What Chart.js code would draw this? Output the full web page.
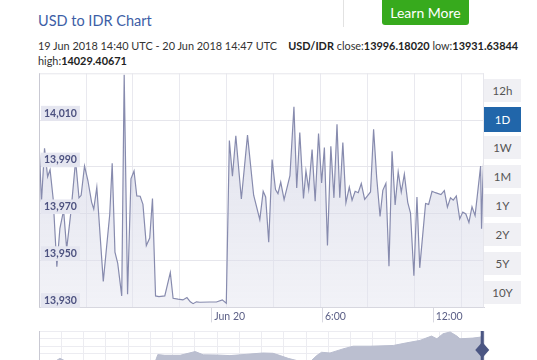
<!DOCTYPE html>
<html>
<head>
<meta charset="utf-8">
<script src="https://cdn.jsdelivr.net/npm/chart.js@4"></script>
<style>
  body { margin: 0; width: 537px; height: 360px; overflow: hidden; background: #fff; font-family: Lato, sans-serif; position: relative; }
  .title { position: absolute; left: 38px; top: 12px; font-size: 14.5px; color: #3d5ea6; }
  .sep { position: absolute; left: 343px; top: 0; width: 1px; height: 27px; background: #e2e2e2; }
  .learn { position: absolute; left: 382px; top: -4px; width: 87px; height: 29px; background: #37aa1d; color: #fff; border-radius: 3px; font-size: 14px; text-align: center; line-height: 34px; }
  .info { position: absolute; left: 38px; top: 38px; font-size: 10.9px; color: #333; line-height: 15px; width: 500px; white-space: nowrap; }
  .info b { color: #222; }
  .btns { position: absolute; left: 484px; top: 79px; }
  .btn { width: 37px; height: 23px; margin-bottom: 6px; background: #f0f0f4; color: #555; font-size: 11.5px; text-align: center; line-height: 23px; }
  .btn.on { background: #2166aa; color: #fff; height: 25px; line-height: 25px; margin-top: -1px; margin-bottom: 4px; }
  #mainWrap { position: absolute; left: 0; top: 62px; width: 490px; height: 264px; }
  #navWrap { position: absolute; left: 0; top: 329px; width: 490px; height: 40px; }
</style>
</head>
<body>
<div class="title">USD to IDR Chart</div>
<div class="sep"></div>
<div class="learn">Learn More</div>
<div class="info">19 Jun 2018 14:40 UTC - 20 Jun 2018 14:47 UTC &nbsp;&nbsp; <b>USD/IDR</b> close:<b>13996.18020</b> low:<b>13931.63844</b><br>high:<b>14029.40671</b></div>
<div class="btns">
  <div class="btn">12h</div>
  <div class="btn on">1D</div>
  <div class="btn">1W</div>
  <div class="btn">1M</div>
  <div class="btn">1Y</div>
  <div class="btn">2Y</div>
  <div class="btn">5Y</div>
  <div class="btn">10Y</div>
</div>
<div id="mainWrap"><canvas id="main"></canvas></div>
<div id="navWrap"><canvas id="nav"></canvas></div>
<script>
// minutes after 19 Jun 2018 14:40 UTC
const times = [0, 8, 18, 28, 36, 46, 58, 68, 80, 90, 104, 119, 130, 137, 148, 159, 171, 178, 188, 209,
  230, 238, 247, 256, 269, 277, 288, 299, 309, 318, 329, 338, 349, 360, 369, 379, 390, 409, 427, 436,
  452, 468, 481, 492, 501, 512, 523, 555, 577, 596, 609, 619, 629, 640, 658, 678, 698, 718, 729, 737,
  747, 758, 769, 777, 786, 797, 816, 829, 838, 848, 860, 868, 877, 888, 898, 909, 919, 928, 938, 949,
  959, 969, 978, 988, 998, 1009, 1018, 1028, 1038, 1048, 1059, 1068, 1078, 1088, 1098, 1109, 1118, 1128, 1138, 1148,
  1158, 1168, 1178, 1188, 1199, 1208, 1219, 1229, 1238, 1257, 1267, 1278, 1289, 1307, 1318, 1328, 1338, 1347, 1357, 1368,
  1378, 1388, 1398, 1408, 1418, 1436, 1439, 1443, 1447];
const rates = [14001.3, 13975.1, 13998.0, 13985.8, 13988.8, 13976.5, 13947.4, 13963.8, 13971.5, 13955.0, 13971.0, 13992.8, 13976.8, 13977.9, 13990.4, 13984.2, 13975.0, 13972.0, 13981.3, 13941.1,
  13969.7, 13991.6, 13953.6, 13948.8, 13934.9, 14029.4, 13935.6, 13984.9, 13988.3, 13977.6, 13977.5, 13974.0, 13956.4, 13959.6, 13976.5, 13934.9, 13934.6, 13934.9, 13944.9, 13933.9,
  13933.5, 13933.2, 13934.2, 13932.4, 13931.6, 13932.4, 13932.2, 13932.3, 13932.3, 13933.2, 13931.8, 14001.3, 13986.0, 14003.3, 13976.3, 14003.6, 13977.9, 13967.5, 13979.6, 13977.2,
  13957.8, 13993.2, 13980.3, 13978.6, 13983.5, 13976.0, 13986.3, 14015.7, 13981.0, 14004.7, 13976.5, 13988.3, 13980.4, 13997.4, 13975.4, 14004.3, 13983.2, 13998.3, 13956.4, 13998.8,
  13976.8, 14008.2, 13976.8, 14000.4, 13974.7, 13981.4, 13975.8, 13979.6, 13979.0, 13982.9, 13976.1, 13977.6, 13979.3, 14006.1, 13985.6, 13968.9, 13980.0, 13983.0, 13947.6, 13996.7,
  13973.8, 13987.9, 13979.3, 13986.9, 13974.9, 13970.3, 13943.5, 13977.2, 13946.9, 13974.4, 13974.0, 13979.6, 13979.0, 13978.2, 13979.9, 13972.8, 13976.8, 13975.8, 13977.6, 13967.8,
  13970.7, 13969.9, 13966.3, 13973.0, 13969.2, 13990.4, 13963.6, 13983.2, 13996.2];

const yTicks = [13930, 13950, 13970, 13990, 14010];
const xTickMins = [560, 920, 1280];
const xTickLabels = ['Jun 20', '6:00', '12:00'];
const gridMins = [0, 153, 305, 458, 611, 764, 916, 1069, 1222, 1375];

// navigator overview (position across strip in %, relative level)
const navPos = [0, 3.6, 4.7, 6.1, 9.2, 26.1, 26.7, 28.3, 31.7, 35.1, 36.9, 40, 42.9, 46.7, 50.3, 52.6, 54.2, 56, 58.7, 60.9,
  62.4, 63.5, 65.4, 68.3, 70.6, 74.4, 79.6, 82.6, 85.6, 88.2, 89.4, 90.8, 92.4, 93.9, 94.6, 97.5, 99.3, 99.7, 100];
const navLevel = [0.5, 1, 4, 1, 0.5, 0.5, 7.7, 7, 7, 10.7, 7.5, 7.3, 6.7, 8, 9.3, 9, 6.7, 4, 1, 0.5,
  6.7, 10, 9.3, 13.3, 16, 16, 16.7, 19.3, 21.7, 26, 23.3, 28.3, 30, 26, 23.3, 24, 25, 30, 30];

// chart-area frame plus the short tick strokes beside the time labels
const frame = {
  id: 'frame',
  afterDraw(chart) {
    const { ctx, chartArea: a } = chart;
    const xs = chart.scales.x;
    ctx.save();
    ctx.lineWidth = 1;
    ctx.strokeStyle = '#e6e6ec';
    ctx.beginPath();
    ctx.moveTo(a.left, a.top + 0.5); ctx.lineTo(a.right, a.top + 0.5);
    ctx.moveTo(a.right - 0.5, a.top); ctx.lineTo(a.right - 0.5, a.bottom);
    ctx.stroke();
    ctx.strokeStyle = '#c9c9d3';
    ctx.beginPath();
    ctx.moveTo(a.left + 0.5, a.top); ctx.lineTo(a.left + 0.5, a.bottom);
    ctx.stroke();
    ctx.strokeStyle = '#d8d8e0';
    ctx.beginPath();
    xs.ticks.forEach(t => {
      const px = Math.round(xs.getPixelForValue(t.value)) + 0.5;
      ctx.moveTo(px, a.bottom); ctx.lineTo(px, a.bottom + 15);
    });
    ctx.stroke();
    ctx.restore();
  }
};

new Chart(document.getElementById('main'), {
  type: 'line',
  data: {
    datasets: [{
      data: times.map((t, i) => ({ x: t, y: rates[i] })),
      borderColor: '#878bae',
      borderWidth: 1.2,
      pointRadius: 0,
      tension: 0,
      fill: 'start',
      backgroundColor: (c) => {
        const a = c.chart.chartArea;
        if (!a) return 'rgba(200,202,222,0.5)';
        const g = c.chart.ctx.createLinearGradient(0, a.top, 0, a.bottom);
        g.addColorStop(0, 'rgba(196,199,220,0.6)');
        g.addColorStop(1, 'rgba(226,227,238,0.45)');
        return g;
      }
    }]
  },
  options: {
    responsive: true,
    maintainAspectRatio: false,
    animation: false,
    layout: { padding: { left: 39, right: 6, top: 5, bottom: 0 } },
    plugins: { legend: { display: false }, tooltip: { enabled: false } },
    scales: {
      x: {
        type: 'linear', min: 0, max: 1447,
        afterBuildTicks: (s) => { s.ticks = xTickMins.map(v => ({ value: v })); },
        grid: { drawOnChartArea: false, drawTicks: false },
        border: { color: '#d6d6de' },
        ticks: {
          align: 'start', labelOffset: 3, padding: 3, autoSkip: false, maxRotation: 0,
          color: '#5b5f86', font: { family: 'Lato', size: 10.5 },
          callback: (v) => xTickLabels[xTickMins.indexOf(v)]
        }
      },
      xg: {
        type: 'linear', position: 'bottom', min: 0, max: 1447,
        afterBuildTicks: (s) => { s.ticks = gridMins.map(v => ({ value: v })); },
        grid: { color: '#e9e9ef', drawTicks: false },
        border: { display: false },
        ticks: { display: false }
      },
      y: {
        min: 13930, max: 14030,
        afterBuildTicks: (s) => { s.ticks = yTicks.map(v => ({ value: v })); },
        afterFit: (s) => { s.width = 0; },
        grid: { color: '#e6e6ec', drawTicks: false },
        border: { display: false },
        ticks: {
          z: 1, mirror: true, padding: 5, labelOffset: -7,
          color: '#4d5280', font: { family: 'Lato', size: 10.5, weight: 'bold' },
          showLabelBackdrop: true, backdropColor: '#e5e6f0',
          backdropPadding: { left: 3, right: 3, top: 1, bottom: 1 }
        }
      }
    }
  },
  plugins: [frame]
});

const handle = {
  id: 'handle',
  afterDraw(chart) {
    const { ctx, chartArea: a } = chart;
    const x = chart.scales.x.getPixelForValue(99.6);
    const y = a.top + 19;
    ctx.save();
    ctx.fillStyle = '#4b5683';
    ctx.fillRect(x - 1.5, a.top, 3, a.bottom - a.top);
    ctx.beginPath();
    ctx.moveTo(x, y - 8); ctx.lineTo(x + 7, y); ctx.lineTo(x, y + 8); ctx.lineTo(x - 7, y);
    ctx.closePath();
    ctx.fill();
    ctx.restore();
  }
};

new Chart(document.getElementById('nav'), {
  type: 'line',
  data: {
    datasets: [{
      data: navPos.map((p, i) => ({ x: p, y: navLevel[i] })),
      borderColor: '#b9bdcf',
      borderWidth: 1,
      pointRadius: 0,
      fill: 'start',
      backgroundColor: '#bbbfd0'
    }]
  },
  options: {
    responsive: true,
    maintainAspectRatio: false,
    animation: false,
    layout: { padding: { left: 39, right: 6, top: 2, bottom: 0 } },
    plugins: { legend: { display: false }, tooltip: { enabled: false } },
    scales: {
      x: {
        type: 'linear', min: 0, max: 100,
        ticks: { display: false, stepSize: 5 },
        grid: { color: '#ececf1', drawTicks: false },
        border: { color: '#c9c9d3' }
      },
      y: {
        min: -6.5, max: 31,
        ticks: { display: false, stepSize: 7.5 },
        grid: { color: '#ececf1', drawTicks: false },
        border: { color: '#c9c9d3' }
      }
    }
  },
  plugins: [handle]
});
</script>
</body>
</html>
